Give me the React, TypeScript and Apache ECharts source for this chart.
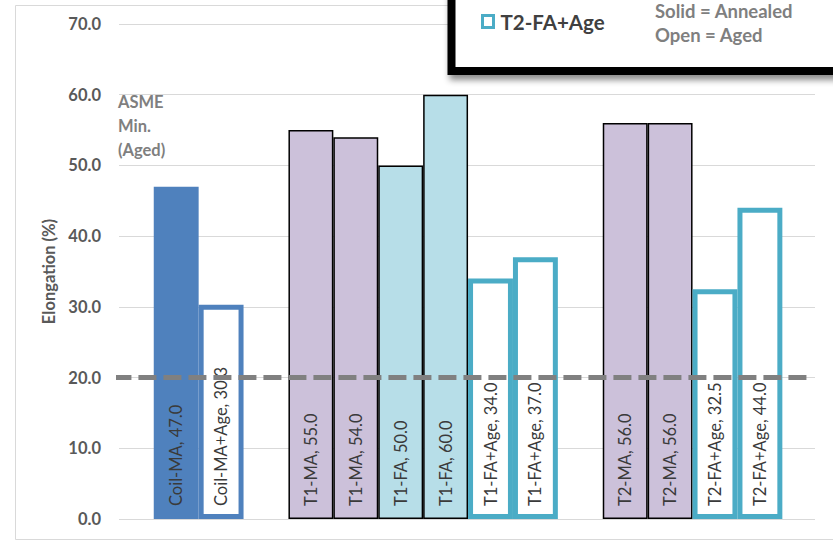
import React, { useEffect, useRef } from "react";
import * as echarts from "echarts";

// One entry per bar slot along the x axis; empty names are spacer slots.
const slots = [
  "Coil-MA",
  "Coil-MA+Age",
  "",
  "T1-MA",
  "T1-MA",
  "T1-FA",
  "T1-FA",
  "T1-FA+Age",
  "T1-FA+Age",
  "",
  "T2-MA",
  "T2-MA",
  "T2-FA+Age",
  "T2-FA+Age",
];
const elongation: (number | null)[] = [
  47.0, 30.3, null, 55.0, 54.0, 50.0, 60.0, 34.0, 37.0, null, 56.0, 56.0, 32.5, 44.0,
];
const yTicks = [0, 10, 20, 30, 40, 50, 60, 70];
const asmeMinAged = 20.0;
const asmeLabelLines = ["ASME", "Min.", "(Aged)"];
const legendNames = ["T2-FA+Age"];
const noteLines = ["Solid = Annealed", "Open = Aged"];

const FONT = "Lato, 'Noto Sans', sans-serif";
const BLUE = "#4F81BD";
const TEAL = "#4BACC6";
const LAVENDER = "#CCC1DA";
const ICE = "#B7DEE8";

const solid = (fill: string, stroke?: string) => ({
  color: fill,
  borderColor: stroke ?? fill,
  borderWidth: stroke ? 1.5 : 0,
});
const open = (stroke: string) => ({
  color: "#FFFFFF",
  borderColor: stroke,
  borderWidth: 5,
});

const groupStyles: Record<string, any> = {
  "Coil-MA": solid(BLUE),
  "Coil-MA+Age": open(BLUE),
  "T1-MA": solid(LAVENDER, "#000000"),
  "T1-FA": solid(ICE, "#000000"),
  "T1-FA+Age": open(TEAL),
  "T2-MA": solid(LAVENDER, "#000000"),
  "T2-FA+Age": open(TEAL),
};

export default function App() {
  const ref = useRef<HTMLDivElement>(null);

  useEffect(() => {
    if (!ref.current) return;
    const chart = echarts.init(ref.current, undefined, { renderer: "svg" });

    const groups = slots.filter((s, i) => s && slots.indexOf(s) === i);
    const barSeries = groups.map((name) => {
      const st = groupStyles[name];
      const isOpen = st.borderWidth > 2;
      return {
        name,
        type: "bar",
        xAxisIndex: 1,
        yAxisIndex: 1,
        barGap: "-100%",
        barCategoryGap: "0%",
        z: isOpen ? 3 : 2,
        data: slots.map((s, i) => (s === name ? elongation[i] : null)),
        itemStyle: st,
        label: {
          show: true,
          position: "insideBottom",
          distance: 13,
          rotate: 90,
          align: "left",
          verticalAlign: "middle",
          fontFamily: FONT,
          fontSize: 16.5,
          color: "#3A3A3A",
          formatter: (p: any) => `${p.seriesName}, ${Number(p.value).toFixed(1)}`,
        },
      };
    });

    chart.setOption({
      animation: false,
      backgroundColor: "#FFFFFF",
      grid: [
        { left: 119, right: 18, top: 24, bottom: 22 },
        { left: 153.75, right: 50.65, top: 24, bottom: 22 },
      ],
      xAxis: [
        { type: "value", gridIndex: 0, min: 0, max: 1, show: false },
        {
          type: "category",
          gridIndex: 1,
          data: slots.map((_, i) => `slot${i}`),
          show: false,
        },
      ],
      yAxis: [
        {
          type: "value",
          gridIndex: 0,
          min: yTicks[0],
          max: yTicks[yTicks.length - 1],
          interval: yTicks[1] - yTicks[0],
          name: "Elongation (%)",
          nameLocation: "middle",
          nameGap: 62,
          nameTextStyle: {
            fontFamily: FONT,
            fontWeight: "bold",
            fontSize: 16.5,
            color: "#595959",
          },
          axisLine: { show: false },
          axisTick: { show: false },
          axisLabel: {
            margin: 18,
            fontFamily: FONT,
            fontWeight: "bold",
            fontSize: 16.5,
            color: "#595959",
            formatter: (v: number) => v.toFixed(1),
          },
          splitLine: { lineStyle: { color: "#D9D9D9", width: 1 } },
        },
        {
          type: "value",
          gridIndex: 1,
          min: yTicks[0],
          max: yTicks[yTicks.length - 1],
          show: false,
          splitLine: { show: false },
        },
      ],
      legend: {
        data: legendNames,
        left: 481,
        top: 11,
        padding: 0,
        itemWidth: 11,
        itemHeight: 12,
        icon: "rect",
        selectedMode: false,
        z: 20,
        itemStyle: { color: "#FFFFFF", borderColor: TEAL, borderWidth: 3 },
        textStyle: {
          fontFamily: FONT,
          fontWeight: "bold",
          fontSize: 20.5,
          color: "#404040",
          padding: [0, 0, 0, 2],
        },
      },
      graphic: [
        {
          type: "rect",
          z: -10,
          silent: true,
          shape: { x: 15.5, y: 5.5, width: 900, height: 534 },
          style: { fill: "none", stroke: "#D9D9D9", lineWidth: 1 },
        },
        {
          type: "rect",
          z: 10,
          silent: true,
          shape: { x: 451.5, y: -60, width: 500, height: 131 },
          style: {
            fill: "#FFFFFF",
            stroke: "#000000",
            lineWidth: 8,
            shadowBlur: 6,
            shadowOffsetX: 2,
            shadowOffsetY: 5,
            shadowColor: "rgba(0,0,0,0.45)",
          },
        },
        ...noteLines.map((t, i) => ({
          type: "text",
          z: 20,
          silent: true,
          x: 655,
          y: 11 + i * 24,
          style: {
            text: t,
            fontFamily: FONT,
            fontWeight: "bold",
            fontSize: 18.5,
            fill: "#7F7F7F",
            verticalAlign: "middle",
          },
        })),
        ...asmeLabelLines.map((t, i) => ({
          type: "text",
          z: 20,
          silent: true,
          x: 118,
          y: 102 + i * 24,
          style: {
            text: t,
            fontFamily: FONT,
            fontWeight: "bold",
            fontSize: 16.5,
            fill: "#7F7F7F",
            verticalAlign: "middle",
          },
        })),
      ],
      series: [
        ...barSeries,
        {
          name: "ASME Min. (Aged)",
          type: "line",
          xAxisIndex: 0,
          yAxisIndex: 0,
          z: 6,
          silent: true,
          symbol: "none",
          data: [
            [-0.008, asmeMinAged],
            [0.99, asmeMinAged],
          ],
          lineStyle: { color: "#808080", width: 5, type: [18, 7] },
        },
      ],
    });

    return () => chart.dispose();
  }, []);

  return (
    <div
      ref={ref}
      style={{ position: "absolute", left: 0, top: 0, width: 833, height: 541 }}
    />
  );
}
